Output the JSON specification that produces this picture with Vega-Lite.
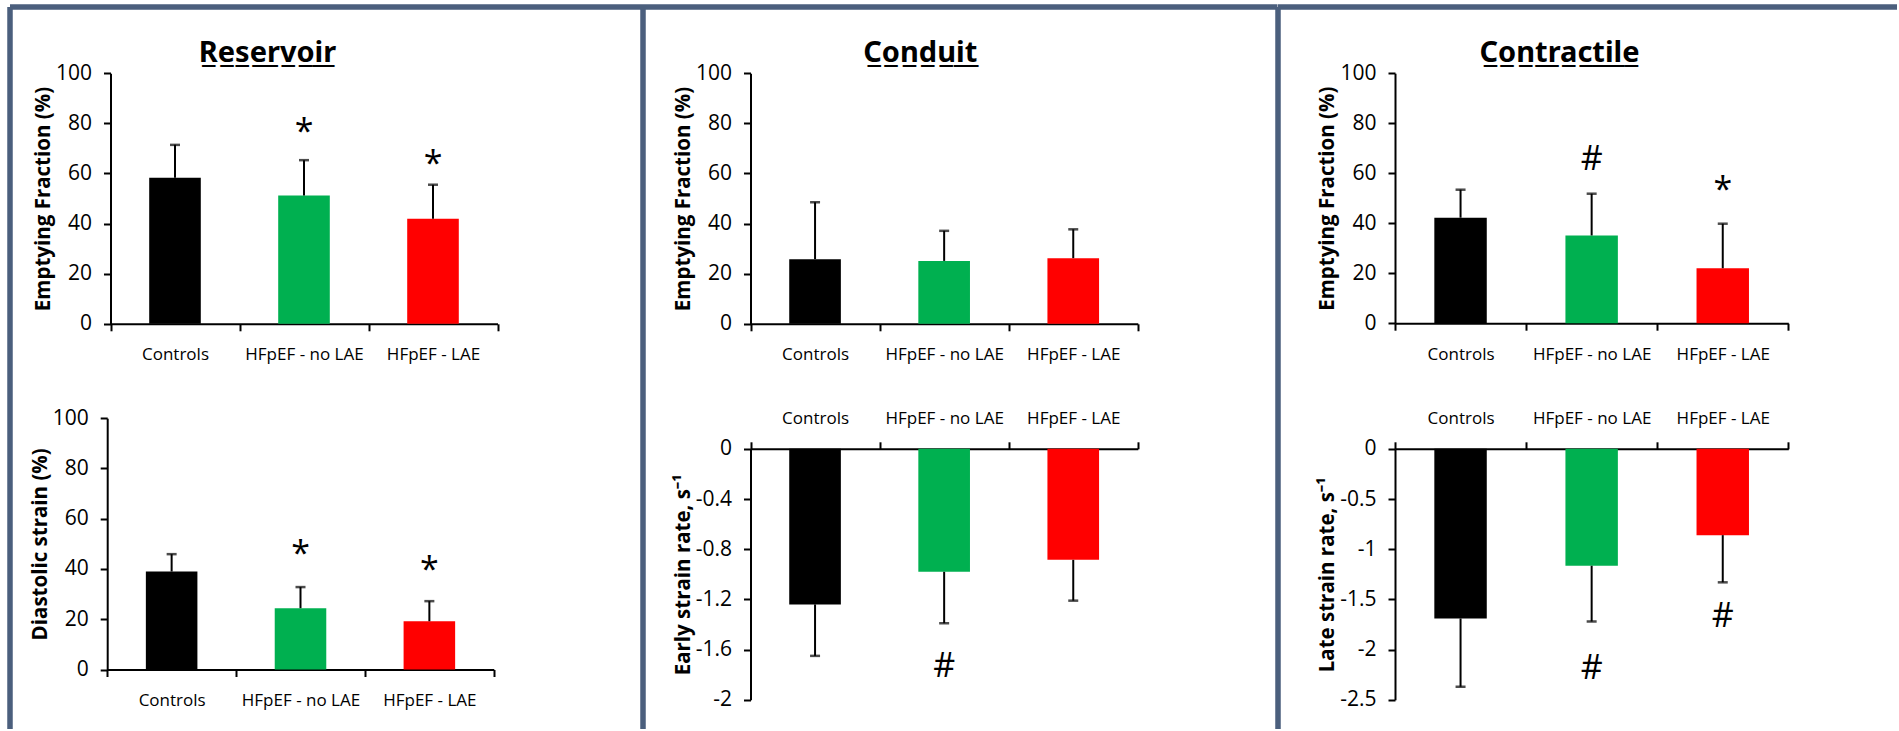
{
  "$schema": "https://vega.github.io/schema/vega-lite/v6.json",
  "padding": {"left": 7, "top": 4, "right": 0, "bottom": 0},
  "background": "white",
  "bounds": "flush",
  "spacing": 0,
  "datasets": {
    "bars": [
      {"panel": "res_ef", "group": "Controls", "mean": 58.3, "errEnd": 71.4},
      {"panel": "res_ef", "group": "HFpEF - no LAE", "mean": 51.2, "errEnd": 65.3},
      {"panel": "res_ef", "group": "HFpEF - LAE", "mean": 41.9, "errEnd": 55.5},
      {"panel": "res_ds", "group": "Controls", "mean": 39.0, "errEnd": 45.9},
      {"panel": "res_ds", "group": "HFpEF - no LAE", "mean": 24.4, "errEnd": 32.8},
      {"panel": "res_ds", "group": "HFpEF - LAE", "mean": 19.2, "errEnd": 27.2},
      {"panel": "con_ef", "group": "Controls", "mean": 25.8, "errEnd": 48.5},
      {"panel": "con_ef", "group": "HFpEF - no LAE", "mean": 25.1, "errEnd": 37.1},
      {"panel": "con_ef", "group": "HFpEF - LAE", "mean": 26.2, "errEnd": 37.7},
      {"panel": "con_sr", "group": "Controls", "mean": -1.24, "errEnd": -1.65},
      {"panel": "con_sr", "group": "HFpEF - no LAE", "mean": -0.98, "errEnd": -1.39},
      {"panel": "con_sr", "group": "HFpEF - LAE", "mean": -0.885, "errEnd": -1.21},
      {"panel": "ctr_ef", "group": "Controls", "mean": 42.2, "errEnd": 53.4},
      {"panel": "ctr_ef", "group": "HFpEF - no LAE", "mean": 35.1, "errEnd": 51.8},
      {"panel": "ctr_ef", "group": "HFpEF - LAE", "mean": 22.0, "errEnd": 39.8},
      {"panel": "ctr_sr", "group": "Controls", "mean": -1.69, "errEnd": -2.37},
      {"panel": "ctr_sr", "group": "HFpEF - no LAE", "mean": -1.165, "errEnd": -1.72},
      {"panel": "ctr_sr", "group": "HFpEF - LAE", "mean": -0.86, "errEnd": -1.33}
    ],
    "markers": [
      {"panel": "res_ef", "group": "HFpEF - no LAE", "symbol": "*", "pos": 76},
      {"panel": "res_ef", "group": "HFpEF - LAE", "symbol": "*", "pos": 63.5},
      {"panel": "res_ds", "group": "HFpEF - no LAE", "symbol": "*", "pos": 45.5},
      {"panel": "res_ds", "group": "HFpEF - LAE", "symbol": "*", "pos": 39},
      {"panel": "ctr_ef", "group": "HFpEF - no LAE", "symbol": "#", "pos": 65.4},
      {"panel": "ctr_ef", "group": "HFpEF - LAE", "symbol": "*", "pos": 53},
      {"panel": "con_sr", "group": "HFpEF - no LAE", "symbol": "#", "pos": -1.74},
      {"panel": "ctr_sr", "group": "HFpEF - no LAE", "symbol": "#", "pos": -2.19},
      {"panel": "ctr_sr", "group": "HFpEF - LAE", "symbol": "#", "pos": -1.68}
    ]
  },
  "hconcat": [
    {
      "width": 633,
      "height": 722,
      "view": {"stroke": "#4b5f7d", "strokeWidth": 5.5, "strokeDash": [633, 1355, 722, 0]},
      "title": {"text": "R̲e̲s̲e̲r̲v̲o̲i̲r̲", "font": "Noto Sans", "fontSize": 29, "fontWeight": "bold", "anchor": "middle", "frame": "group", "offset": -57, "dy": 27, "baseline": "alphabetic", "dx": -59, "color": "black"},
      "resolve": {"scale": {"x": "independent", "y": "independent"}, "axis": {"x": "independent", "y": "independent"}},
      "layer": [
        {
          "data": {"name": "bars"},
          "transform": [{"filter": "datum.panel === 'res_ef'"}],
          "encoding": {
            "x": {"field": "group", "type": "nominal", "scale": {"domain": ["Controls", "HFpEF - no LAE", "HFpEF - LAE"], "range": [100.5, 487.5], "paddingInner": 0, "paddingOuter": 0}, "axis": {"orient": "bottom", "offset": -405.2, "title": null, "labelPadding": 16}},
            "y": {"field": "mean", "type": "quantitative", "scale": {"domain": [0, 100], "range": [316.8, 66.2], "nice": false}, "axis": {"orient": "left", "offset": -100.5, "values": [0, 20, 40, 60, 80, 100], "title": "Emptying Fraction (%)"}}
          },
          "layer": [
            {"mark": {"type": "bar", "width": {"band": 0.4}}, "encoding": {"color": {"field": "group", "type": "nominal", "scale": {"domain": ["Controls", "HFpEF - no LAE", "HFpEF - LAE"], "range": ["#000000", "#00b050", "#ff0000"]}, "legend": null}}},
            {"mark": {"type": "rule", "color": "black", "strokeWidth": 2}, "encoding": {"y2": {"field": "errEnd"}}},
            {"mark": {"type": "tick", "color": "black", "thickness": 2.5, "size": 10}, "encoding": {"y": {"field": "errEnd", "type": "quantitative", "scale": {"domain": [0, 100], "range": [316.8, 66.2], "nice": false}, "axis": {"orient": "left", "offset": -100.5, "values": [0, 20, 40, 60, 80, 100], "title": "Emptying Fraction (%)"}}}},
            {"data": {"name": "markers"}, "transform": [{"filter": "datum.panel === 'res_ef'"}], "mark": {"type": "text", "fontSize": 34, "baseline": "middle", "color": "black"}, "encoding": {"y": {"field": "pos", "type": "quantitative", "scale": {"domain": [0, 100], "range": [316.8, 66.2], "nice": false}, "axis": {"orient": "left", "offset": -100.5, "values": [0, 20, 40, 60, 80, 100], "title": "Emptying Fraction (%)"}}, "text": {"field": "symbol"}}}
          ]
        },
        {
          "data": {"name": "bars"},
          "transform": [{"filter": "datum.panel === 'res_ds'"}],
          "encoding": {
            "x": {"field": "group", "type": "nominal", "scale": {"domain": ["Controls", "HFpEF - no LAE", "HFpEF - LAE"], "range": [97.2, 483.8], "paddingInner": 0, "paddingOuter": 0}, "axis": {"orient": "bottom", "offset": -59.5, "title": null, "labelPadding": 16}},
            "y": {"field": "mean", "type": "quantitative", "scale": {"domain": [0, 100], "range": [662.5, 411.2], "nice": false}, "axis": {"orient": "left", "offset": -97.2, "values": [0, 20, 40, 60, 80, 100], "title": "Diastolic strain (%)"}}
          },
          "layer": [
            {"mark": {"type": "bar", "width": {"band": 0.4}}, "encoding": {"color": {"field": "group", "type": "nominal", "scale": {"domain": ["Controls", "HFpEF - no LAE", "HFpEF - LAE"], "range": ["#000000", "#00b050", "#ff0000"]}, "legend": null}}},
            {"mark": {"type": "rule", "color": "black", "strokeWidth": 2}, "encoding": {"y2": {"field": "errEnd"}}},
            {"mark": {"type": "tick", "color": "black", "thickness": 2.5, "size": 10}, "encoding": {"y": {"field": "errEnd", "type": "quantitative", "scale": {"domain": [0, 100], "range": [662.5, 411.2], "nice": false}, "axis": {"orient": "left", "offset": -97.2, "values": [0, 20, 40, 60, 80, 100], "title": "Diastolic strain (%)"}}}},
            {"data": {"name": "markers"}, "transform": [{"filter": "datum.panel === 'res_ds'"}], "mark": {"type": "text", "fontSize": 34, "baseline": "middle", "color": "black"}, "encoding": {"y": {"field": "pos", "type": "quantitative", "scale": {"domain": [0, 100], "range": [662.5, 411.2], "nice": false}, "axis": {"orient": "left", "offset": -97.2, "values": [0, 20, 40, 60, 80, 100], "title": "Diastolic strain (%)"}}, "text": {"field": "symbol"}}}
          ]
        }
      ]
    },
    {
      "width": 634.5,
      "height": 722,
      "view": {"stroke": "#4b5f7d", "strokeWidth": 5.5, "strokeDash": [634.5, 1356.5, 722, 0]},
      "title": {"text": "C̲o̲n̲d̲u̲i̲t̲", "font": "Noto Sans", "fontSize": 29, "fontWeight": "bold", "anchor": "middle", "frame": "group", "offset": -57, "dy": 27, "baseline": "alphabetic", "dx": -40, "color": "black"},
      "resolve": {"scale": {"x": "independent", "y": "independent"}, "axis": {"x": "independent", "y": "independent"}},
      "layer": [
        {
          "data": {"name": "bars"},
          "transform": [{"filter": "datum.panel === 'con_ef'"}],
          "encoding": {
            "x": {"field": "group", "type": "nominal", "scale": {"domain": ["Controls", "HFpEF - no LAE", "HFpEF - LAE"], "range": [107.5, 494.8], "paddingInner": 0, "paddingOuter": 0}, "axis": {"orient": "bottom", "offset": -405.2, "title": null, "labelPadding": 16}},
            "y": {"field": "mean", "type": "quantitative", "scale": {"domain": [0, 100], "range": [316.8, 66.2], "nice": false}, "axis": {"orient": "left", "offset": -107.5, "values": [0, 20, 40, 60, 80, 100], "title": "Emptying Fraction (%)"}}
          },
          "layer": [
            {"mark": {"type": "bar", "width": {"band": 0.4}}, "encoding": {"color": {"field": "group", "type": "nominal", "scale": {"domain": ["Controls", "HFpEF - no LAE", "HFpEF - LAE"], "range": ["#000000", "#00b050", "#ff0000"]}, "legend": null}}},
            {"mark": {"type": "rule", "color": "black", "strokeWidth": 2}, "encoding": {"y2": {"field": "errEnd"}}},
            {"mark": {"type": "tick", "color": "black", "thickness": 2.5, "size": 10}, "encoding": {"y": {"field": "errEnd", "type": "quantitative", "scale": {"domain": [0, 100], "range": [316.8, 66.2], "nice": false}, "axis": {"orient": "left", "offset": -107.5, "values": [0, 20, 40, 60, 80, 100], "title": "Emptying Fraction (%)"}}}}
          ]
        },
        {
          "data": {"name": "bars"},
          "transform": [{"filter": "datum.panel === 'con_sr'"}],
          "encoding": {
            "x": {"field": "group", "type": "nominal", "scale": {"domain": ["Controls", "HFpEF - no LAE", "HFpEF - LAE"], "range": [107.5, 494.8], "paddingInner": 0, "paddingOuter": 0}, "axis": {"orient": "top", "offset": -441.8, "title": null, "labelPadding": 14}},
            "y": {"field": "mean", "type": "quantitative", "scale": {"domain": [-2, 0], "range": [692.8, 441.8], "nice": false}, "axis": {"orient": "left", "offset": -107.5, "values": [0, -0.4, -0.8, -1.2, -1.6, -2], "format": "~g", "labelExpr": "replace(datum.label, '\u2212', '-')", "title": "Early strain rate, s\u207b\u00b9"}}
          },
          "layer": [
            {"mark": {"type": "bar", "width": {"band": 0.4}}, "encoding": {"color": {"field": "group", "type": "nominal", "scale": {"domain": ["Controls", "HFpEF - no LAE", "HFpEF - LAE"], "range": ["#000000", "#00b050", "#ff0000"]}, "legend": null}}},
            {"mark": {"type": "rule", "color": "black", "strokeWidth": 2}, "encoding": {"y2": {"field": "errEnd"}}},
            {"mark": {"type": "tick", "color": "black", "thickness": 2.5, "size": 10}, "encoding": {"y": {"field": "errEnd", "type": "quantitative", "scale": {"domain": [-2, 0], "range": [692.8, 441.8], "nice": false}, "axis": {"orient": "left", "offset": -107.5, "values": [0, -0.4, -0.8, -1.2, -1.6, -2], "format": "~g", "labelExpr": "replace(datum.label, '\u2212', '-')", "title": "Early strain rate, s\u207b\u00b9"}}}},
            {"data": {"name": "markers"}, "transform": [{"filter": "datum.panel === 'con_sr'"}], "mark": {"type": "text", "fontSize": 34, "baseline": "middle", "color": "black"}, "encoding": {"y": {"field": "pos", "type": "quantitative", "scale": {"domain": [-2, 0], "range": [692.8, 441.8], "nice": false}, "axis": {"orient": "left", "offset": -107.5, "values": [0, -0.4, -0.8, -1.2, -1.6, -2], "format": "~g", "labelExpr": "replace(datum.label, '\u2212', '-')", "title": "Early strain rate, s\u207b\u00b9"}}, "text": {"field": "symbol"}}}
          ]
        }
      ]
    },
    {
      "width": 619,
      "height": 722,
      "view": {"stroke": "#4b5f7d", "strokeWidth": 5.5, "strokeDash": [619, 1341, 722, 0]},
      "title": {"text": "C̲o̲n̲t̲r̲a̲c̲t̲i̲l̲e̲", "font": "Noto Sans", "fontSize": 29, "fontWeight": "bold", "anchor": "middle", "frame": "group", "offset": -57, "dy": 27, "baseline": "alphabetic", "dx": -28, "color": "black"},
      "resolve": {"scale": {"x": "independent", "y": "independent"}, "axis": {"x": "independent", "y": "independent"}},
      "layer": [
        {
          "data": {"name": "bars"},
          "transform": [{"filter": "datum.panel === 'ctr_ef'"}],
          "encoding": {
            "x": {"field": "group", "type": "nominal", "scale": {"domain": ["Controls", "HFpEF - no LAE", "HFpEF - LAE"], "range": [117, 510.3], "paddingInner": 0, "paddingOuter": 0}, "axis": {"orient": "bottom", "offset": -405.8, "title": null, "labelPadding": 16}},
            "y": {"field": "mean", "type": "quantitative", "scale": {"domain": [0, 100], "range": [316.2, 66.2], "nice": false}, "axis": {"orient": "left", "offset": -117, "values": [0, 20, 40, 60, 80, 100], "title": "Emptying Fraction (%)"}}
          },
          "layer": [
            {"mark": {"type": "bar", "width": {"band": 0.4}}, "encoding": {"color": {"field": "group", "type": "nominal", "scale": {"domain": ["Controls", "HFpEF - no LAE", "HFpEF - LAE"], "range": ["#000000", "#00b050", "#ff0000"]}, "legend": null}}},
            {"mark": {"type": "rule", "color": "black", "strokeWidth": 2}, "encoding": {"y2": {"field": "errEnd"}}},
            {"mark": {"type": "tick", "color": "black", "thickness": 2.5, "size": 10}, "encoding": {"y": {"field": "errEnd", "type": "quantitative", "scale": {"domain": [0, 100], "range": [316.2, 66.2], "nice": false}, "axis": {"orient": "left", "offset": -117, "values": [0, 20, 40, 60, 80, 100], "title": "Emptying Fraction (%)"}}}},
            {"data": {"name": "markers"}, "transform": [{"filter": "datum.panel === 'ctr_ef'"}], "mark": {"type": "text", "fontSize": 34, "baseline": "middle", "color": "black"}, "encoding": {"y": {"field": "pos", "type": "quantitative", "scale": {"domain": [0, 100], "range": [316.2, 66.2], "nice": false}, "axis": {"orient": "left", "offset": -117, "values": [0, 20, 40, 60, 80, 100], "title": "Emptying Fraction (%)"}}, "text": {"field": "symbol"}}}
          ]
        },
        {
          "data": {"name": "bars"},
          "transform": [{"filter": "datum.panel === 'ctr_sr'"}],
          "encoding": {
            "x": {"field": "group", "type": "nominal", "scale": {"domain": ["Controls", "HFpEF - no LAE", "HFpEF - LAE"], "range": [117, 510.3], "paddingInner": 0, "paddingOuter": 0}, "axis": {"orient": "top", "offset": -441.8, "title": null, "labelPadding": 14}},
            "y": {"field": "mean", "type": "quantitative", "scale": {"domain": [-2.5, 0], "range": [692.8, 441.8], "nice": false}, "axis": {"orient": "left", "offset": -117, "values": [0, -0.5, -1, -1.5, -2, -2.5], "format": "~g", "labelExpr": "replace(datum.label, '\u2212', '-')", "title": "Late strain rate, s\u207b\u00b9"}}
          },
          "layer": [
            {"mark": {"type": "bar", "width": {"band": 0.4}}, "encoding": {"color": {"field": "group", "type": "nominal", "scale": {"domain": ["Controls", "HFpEF - no LAE", "HFpEF - LAE"], "range": ["#000000", "#00b050", "#ff0000"]}, "legend": null}}},
            {"mark": {"type": "rule", "color": "black", "strokeWidth": 2}, "encoding": {"y2": {"field": "errEnd"}}},
            {"mark": {"type": "tick", "color": "black", "thickness": 2.5, "size": 10}, "encoding": {"y": {"field": "errEnd", "type": "quantitative", "scale": {"domain": [-2.5, 0], "range": [692.8, 441.8], "nice": false}, "axis": {"orient": "left", "offset": -117, "values": [0, -0.5, -1, -1.5, -2, -2.5], "format": "~g", "labelExpr": "replace(datum.label, '\u2212', '-')", "title": "Late strain rate, s\u207b\u00b9"}}}},
            {"data": {"name": "markers"}, "transform": [{"filter": "datum.panel === 'ctr_sr'"}], "mark": {"type": "text", "fontSize": 34, "baseline": "middle", "color": "black"}, "encoding": {"y": {"field": "pos", "type": "quantitative", "scale": {"domain": [-2.5, 0], "range": [692.8, 441.8], "nice": false}, "axis": {"orient": "left", "offset": -117, "values": [0, -0.5, -1, -1.5, -2, -2.5], "format": "~g", "labelExpr": "replace(datum.label, '\u2212', '-')", "title": "Late strain rate, s\u207b\u00b9"}}, "text": {"field": "symbol"}}}
          ]
        }
      ]
    }
  ],
  "config": {
    "font": "Open Sans",
    "axis": {
      "grid": false,
      "domainColor": "black",
      "domainWidth": 2,
      "tickColor": "black",
      "tickWidth": 2,
      "tickSize": 7,
      "labelColor": "black",
      "titleColor": "black",
      "labelFont": "Open Sans",
      "titleFont": "Open Sans",
      "zindex": 1
    },
    "axisX": {"labelFontSize": 17, "labelAngle": 0, "tickBand": "extent"},
    "axisY": {"labelFontSize": 21, "labelPadding": 12, "titleFontSize": 20.5, "titleFontWeight": "bold", "titlePadding": 2},
    "title": {"font": "Noto Sans"}
  }
}
